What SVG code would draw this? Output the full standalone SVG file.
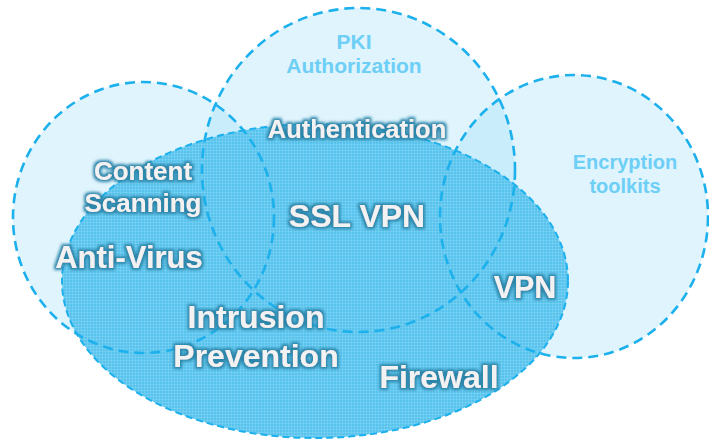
<svg xmlns="http://www.w3.org/2000/svg" xmlns:xlink="http://www.w3.org/1999/xlink" width="709" height="440" viewBox="0 0 709 440">
  <style>
    .light { fill: #a6e1f9; fill-opacity: 0.36; }
    .dark { fill: #58c4ee; }
    .edge { fill: none; stroke: #1cb0ec; stroke-width: 2.6; stroke-dasharray: 10 6; }
    .edge-fw { fill: none; stroke: #1cb0ec; stroke-width: 2; stroke-dasharray: 7 4; }
    .big { font-family: "Liberation Sans", Arial, sans-serif; font-weight: bold; fill: #f2f2f2; text-anchor: middle; filter: url(#glow); }
    .soft { font-family: "Liberation Sans", Arial, sans-serif; font-weight: bold; fill: #6dcff6; text-anchor: middle; }
  </style>
  <defs>
    <filter id="glow" x="-15%" y="-40%" width="130%" height="180%">
      <feMorphology in="SourceAlpha" operator="dilate" radius="2" result="d"/>
      <feGaussianBlur in="d" stdDeviation="1.5" result="b"/>
      <feFlood flood-color="#2b86aa" flood-opacity="1"/>
      <feComposite in2="b" operator="in" result="g"/>
      <feMerge><feMergeNode in="g"/><feMergeNode in="SourceGraphic"/></feMerge>
    </filter>
    <pattern id="grid" width="3" height="3" patternUnits="userSpaceOnUse">
      <rect x="0" y="0" width="3" height="1" fill="#ffffff" fill-opacity="0.12"/>
      <rect x="0" y="0" width="1" height="3" fill="#ffffff" fill-opacity="0.12"/>
    </pattern>
    <ellipse id="shape-left" cx="143.5" cy="217.5" rx="130.5" ry="135.5"/>
    <ellipse id="shape-top" cx="358.5" cy="170" rx="156.5" ry="162"/>
    <ellipse id="shape-right" cx="574" cy="216.5" rx="134" ry="141.5"/>
    <ellipse id="shape-fw" cx="315" cy="281" rx="253" ry="157"/>
  </defs>

  <rect width="709" height="440" fill="#ffffff"/>

  <g id="fills">
    <use xlink:href="#shape-left" class="light"/>
    <use xlink:href="#shape-top" class="light"/>
    <use xlink:href="#shape-right" class="light"/>
    <use xlink:href="#shape-fw" class="dark"/>
    <use xlink:href="#shape-fw" fill="url(#grid)"/>
  </g>

  <g id="outlines">
    <use xlink:href="#shape-left" class="edge"/>
    <use xlink:href="#shape-top" class="edge"/>
    <use xlink:href="#shape-right" class="edge"/>
    <use xlink:href="#shape-fw" class="edge-fw"/>
  </g>

  <g id="node-pki">
    <text class="soft" x="354" y="49" font-size="21">PKI</text>
    <text class="soft" x="354" y="73" font-size="21">Authorization</text>
  </g>
  <g id="node-encryption">
    <text class="soft" x="625" y="169" font-size="20">Encryption</text>
    <text class="soft" x="625" y="193" font-size="20">toolkits</text>
  </g>
  <g id="node-authentication">
    <text class="big" x="357" y="138" font-size="25.5">Authentication</text>
  </g>
  <g id="node-content-scanning">
    <text class="big" x="143" y="180" font-size="26">Content</text>
    <text class="big" x="143" y="212" font-size="26">Scanning</text>
  </g>
  <g id="node-anti-virus">
    <text class="big" x="129" y="268" font-size="31">Anti-Virus</text>
  </g>
  <g id="node-ssl-vpn">
    <text class="big" x="357" y="227" font-size="32">SSL VPN</text>
  </g>
  <g id="node-vpn">
    <text class="big" x="525" y="298" font-size="30.5">VPN</text>
  </g>
  <g id="node-intrusion-prevention">
    <text class="big" x="256" y="328" font-size="32">Intrusion</text>
    <text class="big" x="256" y="367" font-size="32">Prevention</text>
  </g>
  <g id="node-firewall">
    <text class="big" x="439" y="388" font-size="32">Firewall</text>
  </g>
</svg>
